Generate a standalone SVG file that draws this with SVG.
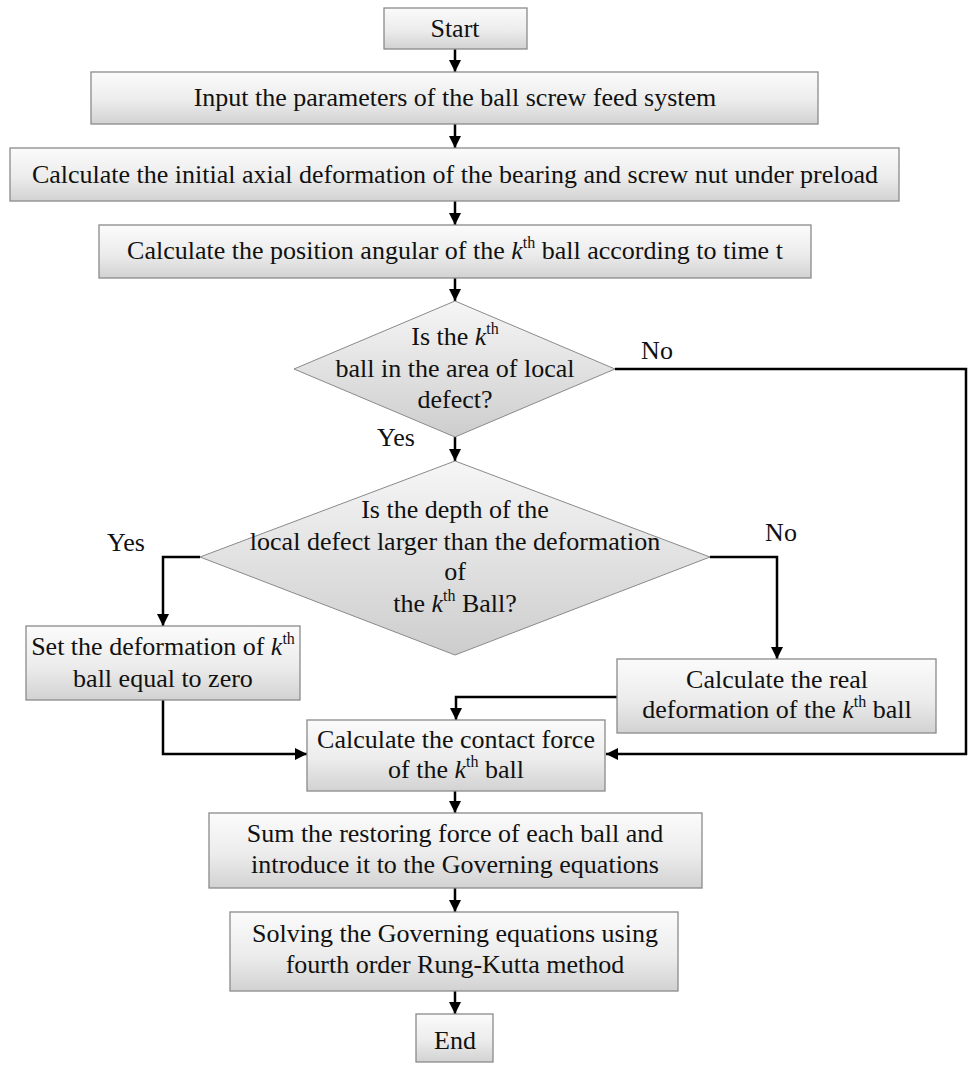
<svg xmlns="http://www.w3.org/2000/svg" width="968" height="1066" viewBox="0 0 968 1066">
<defs>
<linearGradient id="gb" x1="0" y1="0" x2="0" y2="1">
<stop offset="0" stop-color="#fbfbfb"/>
<stop offset="0.55" stop-color="#ececec"/>
<stop offset="1" stop-color="#d2d2d2"/>
</linearGradient>
<linearGradient id="gd" x1="0" y1="0" x2="0" y2="1">
<stop offset="0" stop-color="#f6f6f6"/>
<stop offset="1" stop-color="#cdcdcd"/>
</linearGradient>
<marker id="ah" markerWidth="12" markerHeight="12" viewBox="0 0 12 12" refX="12" refY="6" orient="auto" markerUnits="userSpaceOnUse">
<path d="M0,0 L12,6 L0,12 z" fill="#000"/>
</marker>
</defs>
<style>
.box{fill:url(#gb);stroke:#8a8a8a;stroke-width:1.3}
.dia{fill:url(#gd);stroke:#8a8a8a;stroke-width:1}
.t{font-family:"Liberation Serif","Times New Roman",serif;font-size:26px;fill:#111;text-anchor:middle}
.k{font-style:italic}
.sup{font-size:16px}
.c{fill:none;stroke:#000;stroke-width:2.5;marker-end:url(#ah)}
</style>
<rect width="968" height="1066" fill="#fff"/>

<g id="connectors">
<line class="c" x1="455" y1="49" x2="455" y2="72"/>
<line class="c" x1="455" y1="124" x2="455" y2="148"/>
<line class="c" x1="455" y1="201" x2="455" y2="225"/>
<line class="c" x1="455" y1="278" x2="455" y2="301"/>
<line class="c" x1="455" y1="437" x2="455" y2="461"/>
<polyline class="c" points="615,369 966,369 966,754 606,754"/>
<polyline class="c" points="200,557 163,557 163,626"/>
<polyline class="c" points="710,557 777,557 777,659"/>
<polyline class="c" points="163,700 163,754 307,754"/>
<polyline class="c" points="617,697 456,697 456,720"/>
<line class="c" x1="455" y1="791" x2="455" y2="813"/>
<line class="c" x1="455" y1="888" x2="455" y2="912"/>
<line class="c" x1="455" y1="991" x2="455" y2="1014"/>
<text class="t" x="657" y="359">No</text>
<text class="t" x="396" y="446">Yes</text>
<text class="t" x="126" y="551">Yes</text>
<text class="t" x="781" y="541">No</text>
</g>

<g id="start">
<rect class="box" x="384" y="8" width="143" height="41"/>
<text class="t" x="455" y="37">Start</text>
</g>

<g id="input">
<rect class="box" x="91" y="72" width="727" height="52"/>
<text class="t" x="455" y="106">Input the parameters of the ball screw feed system</text>
</g>

<g id="initial">
<rect class="box" x="10" y="148" width="889" height="53"/>
<text class="t" x="455" y="183">Calculate the initial axial deformation of the bearing and screw nut under preload</text>
</g>

<g id="position">
<rect class="box" x="99" y="225" width="712" height="53"/>
<text class="t" x="455" y="259">Calculate the position angular of the <tspan class="k">k</tspan><tspan class="sup" dy="-11">th</tspan><tspan dy="11"> ball according to time t</tspan></text>
</g>

<g id="decision1">
<polygon class="dia" points="455,301 615,369 455,437 294,369"/>
<text class="t" x="455" y="345">Is the <tspan class="k">k</tspan><tspan class="sup" dy="-11">th</tspan></text>
<text class="t" x="455" y="377">ball in the area of local</text>
<text class="t" x="455" y="408">defect?</text>
</g>

<g id="decision2">
<polygon class="dia" points="455,461 710,557 455,655 200,557"/>
<text class="t" x="455" y="518">Is the depth of the</text>
<text class="t" x="455" y="550">local defect larger than the deformation</text>
<text class="t" x="455" y="580">of</text>
<text class="t" x="455" y="612">the <tspan class="k">k</tspan><tspan class="sup" dy="-11">th</tspan><tspan dy="11"> Ball?</tspan></text>
</g>

<g id="setzero">
<rect class="box" x="26" y="626" width="274" height="74"/>
<text class="t" x="163" y="655">Set the deformation of <tspan class="k">k</tspan><tspan class="sup" dy="-11">th</tspan></text>
<text class="t" x="163" y="687">ball equal to zero</text>
</g>

<g id="real">
<rect class="box" x="617" y="659" width="319" height="74"/>
<text class="t" x="777" y="688">Calculate the real</text>
<text class="t" x="777" y="718">deformation of the <tspan class="k">k</tspan><tspan class="sup" dy="-11">th</tspan><tspan dy="11"> ball</tspan></text>
</g>

<g id="contact">
<rect class="box" x="307" y="720" width="298" height="71"/>
<text class="t" x="456" y="748">Calculate the contact force</text>
<text class="t" x="456" y="778">of the <tspan class="k">k</tspan><tspan class="sup" dy="-11">th</tspan><tspan dy="11"> ball</tspan></text>
</g>

<g id="sum">
<rect class="box" x="209" y="813" width="493" height="75"/>
<text class="t" x="455" y="842">Sum the restoring force of each ball and</text>
<text class="t" x="455" y="873">introduce it to the Governing equations</text>
</g>

<g id="solve">
<rect class="box" x="230" y="912" width="448" height="79"/>
<text class="t" x="455" y="942">Solving the Governing equations using</text>
<text class="t" x="455" y="973">fourth order Rung-Kutta method</text>
</g>

<g id="end">
<rect class="box" x="416" y="1014" width="77" height="48"/>
<text class="t" x="455" y="1049">End</text>
</g>
</svg>
